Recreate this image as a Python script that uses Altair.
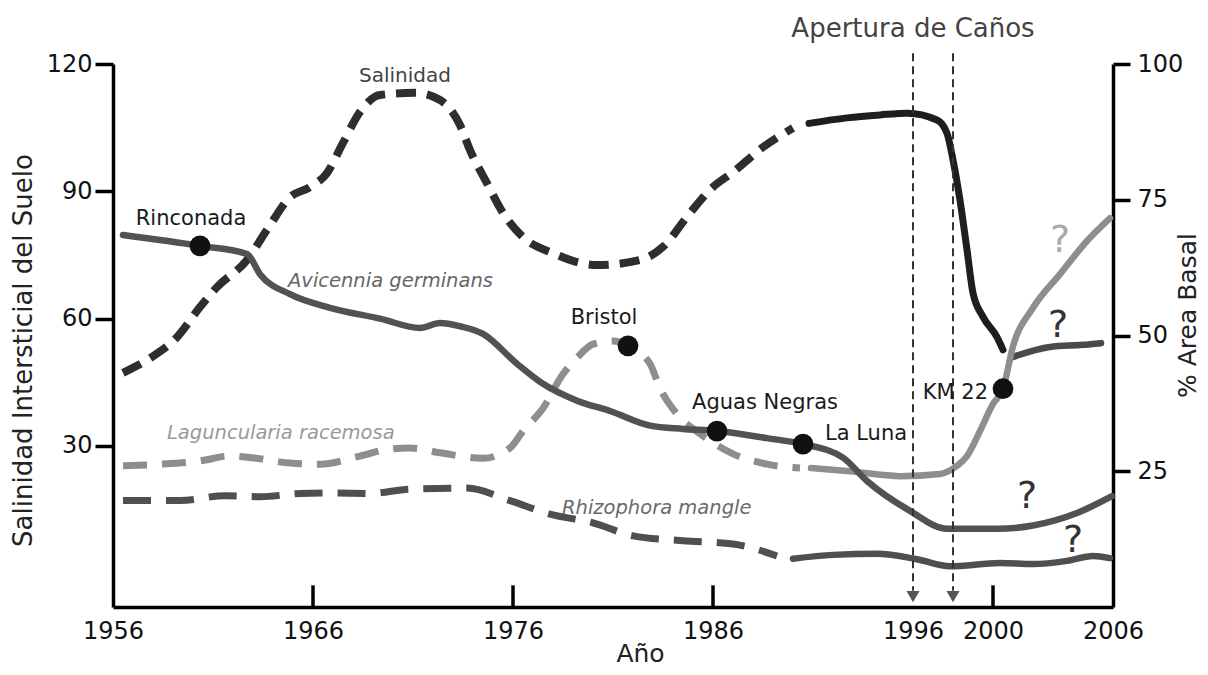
import altair as alt
import pandas as pd

# ---------------- data ----------------
# Salinity (left axis, Salinidad Intersticial del Suelo)
sal_dash_year = [1956.5, 1957.8, 1959.2, 1960.35, 1961.2, 1962.7, 1963.7, 1964.85, 1965.85, 1966.7,
                 1967.5, 1968.35, 1969.35, 1971.1, 1972.35, 1973.35, 1973.85, 1974.7, 1975.5, 1976.5,
                 1978.0, 1980.2, 1982.35, 1983.5, 1984.85, 1986.0, 1987.0, 1988.5, 1990.0]
sal_dash_val = [47.2, 50.5, 55.6, 62.7, 67.4, 73.8, 80.9, 88.6, 91.0, 94.3,
                101.4, 108.7, 112.7, 113.2, 111.5, 105.6, 99.7, 91.9, 84.9, 79.2,
                75.4, 72.6, 73.8, 76.9, 84.9, 91.0, 94.5, 100.4, 104.9]
sal_solid_year = [1990.8, 1992.7, 1994.35, 1995.7, 1997.2, 1997.7, 1998.0, 1998.35, 1998.7, 1999.0,
                  1999.5, 2000.2, 2000.5]
sal_solid_val = [106.0, 107.3, 108.0, 108.4, 106.8, 103.7, 97.4, 87.9, 76.2, 66.0,
                 60.4, 55.6, 52.6]
sal_q_year = [2000.9, 2002.85, 2004.5, 2005.4]
sal_q_val = [50.8, 53.3, 53.8, 54.2]

# % Area Basal (right axis)
avi_year = [1956.5, 1960.35, 1962.7, 1963.35, 1964.85, 1966.85, 1969.35, 1971.35, 1972.35, 1973.35,
            1974.5, 1976.2, 1977.5, 1979.2, 1980.85, 1982.85, 1984.5, 1986.2, 1988.7, 1990.5,
            1992.5, 1993.7, 1995.85, 1997.7, 2000.2, 2002.0, 2004.2, 2005.95]
avi_val = [68.5, 66.5, 65.0, 61.3, 57.6, 55.1, 53.1, 51.4, 52.3, 51.7,
           50.3, 44.8, 41.1, 38.0, 36.1, 33.4, 32.8, 32.4, 31.1, 30.0,
           27.5, 23.2, 17.7, 14.4, 14.4, 15.0, 17.3, 20.4]

lag_dash_year = [1956.5, 1958.35, 1960.35, 1961.85, 1963.35, 1964.85, 1966.35, 1968.35, 1969.85, 1970.85,
                 1972.35, 1974.5, 1975.85, 1976.5, 1977.5, 1978.5, 1979.2, 1980.0, 1981.0, 1981.75,
                 1982.85, 1983.35, 1984.2, 1985.35, 1987.0, 1988.7, 1990.35]
lag_dash_val = [26.0, 26.3, 26.9, 27.8, 27.3, 26.5, 26.3, 27.8, 29.1, 29.3,
                28.4, 27.4, 29.3, 32.4, 36.6, 42.9, 45.9, 48.4, 49.0, 48.1,
                44.8, 40.3, 35.5, 31.9, 28.2, 26.3, 25.6]
lag_solid_year = [1990.9, 1992.85, 1995.35, 1997.35, 1998.2, 1998.7, 1999.35, 2000.0, 2000.5, 2001.0,
                  2002.0, 2003.35, 2004.7, 2005.85]
lag_solid_val = [25.6, 25.0, 24.1, 24.5, 26.0, 27.8, 32.4, 37.4, 40.2, 48.0,
                 55.1, 61.3, 67.4, 71.6]

rhi_dash_year = [1956.5, 1959.35, 1961.6, 1963.35, 1965.35, 1966.85, 1968.85, 1970.85, 1973.7, 1975.85,
                 1977.85, 1980.0, 1982.0, 1984.5, 1987.0, 1989.2]
rhi_dash_val = [19.6, 19.6, 20.5, 20.3, 20.9, 21.0, 20.9, 21.7, 21.9, 19.6,
                17.1, 15.5, 13.1, 12.2, 11.6, 9.4]
rhi_solid_year = [1990.0, 1992.0, 1994.2, 1996.2, 1997.85, 2000.35, 2002.0, 2003.7, 2005.0, 2005.85]
rhi_solid_val = [8.9, 9.6, 9.8, 8.8, 7.5, 8.1, 7.9, 8.5, 9.4, 9.0]

site_name = ["Rinconada", "Bristol", "Aguas Negras", "La Luna", "KM 22"]
site_year = [1960.35, 1981.75, 1986.2, 1990.5, 2000.5]
site_val = [66.5, 48.1, 32.4, 30.0, 40.2]

# labels (text, year, % value)
place_text = ["Rinconada", "Bristol", "Aguas Negras"]
place_year = [1959.9, 1980.55, 1988.6]
place_val = [71.5, 53.2, 37.6]
luna_text, luna_year, luna_val = ["La Luna"], [1991.6], [31.9]
km_text, km_year, km_val = ["KM 22"], [1999.75], [39.4]
species_text = ["Avicennia germinans", "Laguncularia racemosa", "Rhizophora mangle"]
species_year = [1964.75, 1958.7, 1978.45]
species_val = [60.0, 32.0, 18.2]
sal_text, sal_year, sal_val = ["Salinidad"], [1970.6], [97.8]
ap_text, ap_year, ap_val = ["Apertura de Caños"], [1996.0], [106.4]
q_dark_year = [2003.25, 2001.7, 2004.0]
q_dark_val = [51.8, 20.3, 12.2]
q_light_year, q_light_val = [2003.35], [67.4]

apertura_year = [1996, 1998]
x_tick_labels = [1956, 1966, 1976, 1986, 1996, 2000, 2006]
x_inner_ticks = [1966, 1976, 1986, 2000]
left_ticks = [30, 60, 90, 120]
right_ticks = [25, 50, 75, 100]

FONT = "DejaVu Sans"

# ---------------- encodings ----------------
X = alt.X("year:Q",
          scale=alt.Scale(domain=[1956, 2006], nice=False, zero=False),
          axis=alt.Axis(values=x_tick_labels, format="d", title="Año", ticks=False, tickSize=0,
                        labelPadding=12, labelFlush=False, labelOverlap=False, grid=False,
                        domainColor="black", domainWidth=3.5, labelFontSize=24, labelColor="#111",
                        labelFont=FONT, titleFont=FONT, titleFontSize=25, titleFontWeight="normal",
                        titleColor="#222", titleX=527, titleY=46, titleAlign="center",
                        titleBaseline="middle"))

YL = alt.Y("v:Q",
           scale=alt.Scale(domain=[-8, 120], nice=False, zero=False),
           axis=alt.Axis(orient="left", values=left_ticks, title="Salinidad Intersticial del Suelo",
                         tickSize=18, tickWidth=3.5, tickColor="black", domainColor="black",
                         domainWidth=3.5, labelPadding=3, grid=False, labelFontSize=24,
                         labelColor="#111", labelFont=FONT, titleFont=FONT, titleFontSize=26,
                         titleFontWeight="normal", titleColor="#222", titleX=-90, titleY=286,
                         titleAngle=270, titleAlign="center", titleBaseline="middle"))
YL2 = alt.Y2("v2:Q")

YR = alt.Y("v:Q",
           scale=alt.Scale(domain=[0, 100], nice=False, zero=False),
           axis=alt.Axis(orient="right", values=right_ticks, title="% Area Basal",
                         tickSize=17, tickWidth=3.5, tickColor="black", domainColor="black",
                         domainWidth=3.5, labelPadding=7, grid=False, labelFontSize=24,
                         labelColor="#111", labelFont=FONT, titleFont=FONT, titleFontSize=25,
                         titleFontWeight="normal", titleColor="#222", titleX=74, titleY=251,
                         titleAngle=270, titleAlign="center", titleBaseline="middle"))


def df(years, vals, **extra):
    d = pd.DataFrame({"year": years, "v": vals})
    for k, val in extra.items():
        d[k] = val
    return d


def line(years, vals, Y, color, width, dash=None, cap="round"):
    kw = dict(color=color, strokeWidth=width, interpolate="monotone", strokeCap=cap,
              strokeJoin="round")
    if dash:
        kw["strokeDash"] = dash
    return alt.Chart(df(years, vals)).mark_line(**kw).encode(x=X, y=Y)


def text(texts, years, vals, size, color, align="center", italic=False):
    kw = dict(font=FONT, fontSize=size, color=color, align=align, baseline="middle")
    if italic:
        kw["fontStyle"] = "italic"
    return alt.Chart(df(years, vals, t=texts)).mark_text(**kw).encode(x=X, y=YR, text="t:N")


# ---------------- left (salinity) group ----------------
sal_dash = line(sal_dash_year, sal_dash_val, YL, "#2e2e2e", 8, dash=[20, 11], cap="butt")
sal_solid = line(sal_solid_year, sal_solid_val, YL, "#1e1e1e", 7)
sal_q = line(sal_q_year, sal_q_val, YL, "#4a4a4a", 6.5)
inner_ticks = alt.Chart(df(x_inner_ticks, [-8] * 4, v2=[-2.9] * 4)).mark_rule(
    color="black", strokeWidth=3.5).encode(x=X, y=YL, y2=YL2)
left_group = alt.layer(sal_dash, sal_solid, sal_q, inner_ticks)

# ---------------- right (% area basal) group ----------------
lag_dash = line(lag_dash_year, lag_dash_val, YR, "#8e8e8e", 7, dash=[24, 15], cap="butt")
lag_solid = line(lag_solid_year, lag_solid_val, YR, "#8e8e8e", 6.5)
rhi_dash = line(rhi_dash_year, rhi_dash_val, YR, "#4f4f4f", 7, dash=[28, 15], cap="butt")
rhi_solid = line(rhi_solid_year, rhi_solid_val, YR, "#4f4f4f", 6.5)
avi = line(avi_year, avi_val, YR, "#525252", 6.5)

rules = alt.Chart(df(apertura_year, [102.0, 102.0], v2=[3.0, 3.0])).mark_rule(
    color="#333", strokeWidth=2, strokeDash=[8, 5]).encode(x=X, y=YR, y2=alt.Y2("v2:Q"))
arrows = alt.Chart(df(apertura_year, [1.9, 1.9])).mark_point(
    shape="triangle-down", filled=True, size=170, color="#555", opacity=1).encode(x=X, y=YR)
dots = alt.Chart(df(site_year, site_val, name=site_name)).mark_circle(
    size=430, color="#111", opacity=1).encode(x=X, y=YR)

labels = [
    text(place_text, place_year, place_val, 21, "#1a1a1a"),
    text(luna_text, luna_year, luna_val, 21, "#1a1a1a", align="left"),
    text(km_text, km_year, km_val, 21, "#1a1a1a", align="right"),
    text(species_text[:1], species_year[:1], species_val[:1], 19.5, "#666", align="left", italic=True),
    text(species_text[1:2], species_year[1:2], species_val[1:2], 19.5, "#9a9a9a", align="left", italic=True),
    text(species_text[2:], species_year[2:], species_val[2:], 19.5, "#6a6a6a", align="left", italic=True),
    text(sal_text, sal_year, sal_val, 20, "#444"),
    text(ap_text, ap_year, ap_val, 26, "#444"),
    text(["?"] * 3, q_dark_year, q_dark_val, 38, "#333"),
    text(["?"], q_light_year, q_light_val, 38, "#aaa"),
]

right_group = alt.layer(lag_dash, lag_solid, rhi_dash, rhi_solid, avi, rules, arrows, dots, *labels)

chart = alt.layer(left_group, right_group).resolve_scale(y="independent").properties(
    width=1000, height=543,
    autosize=alt.AutoSizeParams(type="none"),
    padding={"left": 105, "top": 56, "right": 87, "bottom": 60},
    background="white",
).configure_view(strokeWidth=0)

chart.save("out.html", embed_options={"renderer": "svg", "actions": False})
